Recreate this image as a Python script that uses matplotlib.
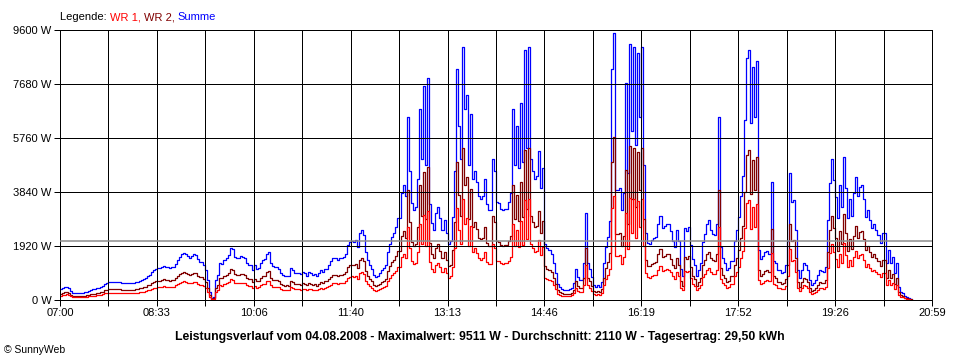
import numpy as np
import matplotlib
matplotlib.use("Agg")
import matplotlib.pyplot as plt

plt.rcParams['font.family'] = ['Liberation Sans', 'DejaVu Sans']

# Leistung in W, ein Wert je ~1,94 min ab 07:00 (eine Zeile je Gitterfeld)
wr1 = [
    160, 180, 190, 200, 180, 130, 110, 100, 100, 100, 100, 100, 110, 120, 140, 150, 160, 160, 170, 180, 190, 200, 240, 260,
    260, 260, 260, 260, 260, 260, 250, 240, 240, 240, 240, 240, 240, 250, 260, 280, 290, 300, 320, 340, 360, 390, 420, 440,
    450, 450, 470, 490, 480, 460, 460, 460, 480, 520, 570, 620, 650, 660, 650, 620, 600, 620, 650, 640, 580, 540, 540, 500,
    420, 280, 110, 30, 40, 280, 360, 520, 510, 570, 590, 640, 740, 720, 620, 590, 590, 620, 610, 600, 530, 500, 500, 430,
    500, 440, 460, 520, 570, 580, 660, 690, 520, 480, 480, 470, 450, 380, 350, 340, 340, 340, 460, 420, 380, 390, 380, 370,
    400, 380, 350, 400, 380, 350, 370, 340, 380, 420, 400, 440, 450, 500, 550, 590, 590, 580, 590, 590, 620, 660, 780, 820,
    840, 820, 850, 760, 950, 990, 920, 680, 570, 500, 440, 350, 330, 350, 380, 420, 460, 500, 680, 800, 900, 950, 1040, 1160,
    1160, 1520, 1640, 1480, 2600, 1840, 1380, 1280, 1320, 1720, 2720, 2000, 3040, 1920, 3160, 1360, 1100, 1000, 1240, 1320, 1160, 1000, 1140, 960,
    800, 840, 1180, 1840, 3280, 2480, 2000, 3600, 2720, 2920, 1920, 2640, 1720, 1840, 1680, 1480, 1440, 1480, 1720, 1360, 1280, 1280, 2000, 1840,
    1400, 1380, 1300, 1280, 1300, 1300, 1400, 1520, 2720, 1920, 2480, 1880, 2800, 1960, 3560, 2160, 3600, 2000, 1840, 1720, 1760, 2120, 1600, 1880,
    800, 740, 710, 660, 520, 380, 220, 180, 160, 140, 140, 140, 150, 170, 240, 440, 330, 290, 280, 520, 1240, 520, 440, 330,
    220, 190, 210, 190, 260, 520, 760, 900, 1120, 3280, 3700, 1560, 1560, 1600, 1280, 1520, 3080, 1800, 3640, 2400, 3600, 2200, 3520, 2600,
    3600, 1920, 960, 810, 800, 850, 880, 900, 1080, 1200, 1020, 1050, 1090, 1080, 980, 840, 760, 1000, 840, 440, 340, 1020, 980, 1040,
    780, 580, 500, 340, 420, 520, 820, 940, 1080, 1140, 1000, 940, 920, 1080, 2600, 760, 600, 520, 420, 460, 560, 560, 840, 1000,
    1180, 1480, 1760, 2560, 3440, 3560, 2520, 3320, 2600, 3400, 710, 580, 620, 680, 700, 660, 1680, 560, 520, 430, 430, 380, 400, 500,
    840, 1800, 1400, 1420, 1000, 430, 310, 430, 520, 500, 430, 280, 210, 240, 280, 360, 430, 420, 400, 480, 1140, 1660, 2000, 1710,
    1470, 1160, 1640, 1320, 2040, 1600, 1160, 1440, 1200, 1520, 1750, 1480, 1610, 1640, 1440, 1180, 1280, 1140, 1020, 1080, 1000, 920, 810, 960,
    950, 520, 710, 520, 620, 380, 520, 190, 120, 100, 60, 50, 30, 10, 0,
]
wr2 = [
    220, 240, 270, 270, 240, 190, 150, 140, 140, 140, 140, 150, 160, 180, 190, 200, 220, 230, 240, 250, 270, 290, 340, 360,
    380, 390, 390, 390, 390, 380, 370, 360, 360, 350, 350, 360, 370, 380, 390, 410, 430, 460, 480, 520, 540, 590, 640, 670,
    680, 680, 710, 730, 710, 700, 690, 700, 710, 770, 850, 920, 970, 1000, 970, 940, 900, 940, 970, 960, 870, 820, 810, 750,
    630, 420, 170, 50, 70, 420, 540, 780, 770, 850, 890, 960, 1110, 1080, 920, 890, 890, 940, 910, 900, 800, 750, 760, 640,
    740, 660, 690, 780, 850, 870, 990, 1030, 780, 720, 710, 710, 670, 570, 530, 510, 520, 510, 690, 630, 580, 580, 570, 550,
    600, 570, 520, 600, 570, 530, 560, 510, 580, 630, 600, 660, 670, 750, 820, 890, 890, 860, 890, 890, 920, 980, 1170, 1240,
    1250, 1230, 1280, 1140, 1420, 1490, 1380, 1020, 850, 750, 660, 530, 490, 520, 570, 630, 690, 750, 1020, 1200, 1350, 1430, 1560, 1740,
    1740, 2280, 2460, 2220, 3900, 2760, 2070, 1920, 1980, 2580, 4080, 3000, 4560, 2880, 4740, 2040, 1650, 1500, 1860, 1980, 1740, 1500, 1710, 1440,
    1200, 1260, 1770, 2760, 4920, 3720, 3000, 5400, 4080, 4380, 2880, 3960, 2580, 2760, 2520, 2220, 2160, 2220, 2580, 2040, 1920, 1920, 3000, 2760,
    2100, 2070, 1950, 1920, 1950, 1950, 2100, 2280, 4080, 2880, 3720, 2820, 4200, 2940, 5340, 3240, 5400, 3000, 2760, 2580, 2640, 3180, 2400, 2820,
    1200, 1110, 1070, 990, 780, 570, 340, 270, 240, 220, 210, 210, 230, 250, 360, 660, 490, 430, 420, 780, 1860, 780, 660, 490,
    330, 290, 320, 290, 390, 780, 1140, 1350, 1680, 4920, 5800, 2340, 2340, 2400, 1920, 2280, 4620, 2700, 5460, 3600, 5400, 3300, 5280, 3900,
    5400, 2880, 1440, 1220, 1200, 1270, 1310, 1350, 1620, 1800, 1530, 1570, 1630, 1620, 1470, 1260, 1140, 1500, 1260, 660, 510, 1530, 1470, 1560,
    1170, 870, 750, 510, 630, 780, 1230, 1410, 1620, 1710, 1500, 1410, 1380, 1620, 3900, 1140, 900, 780, 630, 690, 840, 840, 1260, 1500,
    1770, 2220, 2640, 3840, 5160, 5340, 3780, 4980, 3900, 5100, 1070, 870, 930, 1020, 1050, 990, 2520, 840, 780, 640, 640, 570, 600, 750,
    1260, 2700, 2100, 2130, 1490, 640, 460, 640, 780, 750, 640, 430, 320, 350, 430, 530, 640, 620, 600, 710, 1700, 2490, 3000, 2560,
    2200, 1740, 2450, 1980, 3060, 2400, 1740, 2160, 1800, 2280, 2630, 2220, 2420, 2460, 2160, 1780, 1920, 1700, 1530, 1620, 1490, 1380, 1210, 1440,
    1420, 780, 1070, 780, 920, 570, 780, 280, 180, 140, 80, 70, 50, 20, 0,
]
durchschnitt = 2110

x_labels = ["07:00", "08:33", "10:06", "11:40", "13:13", "14:46", "16:19", "17:52", "19:26", "20:59"]
y_values = [0, 1920, 3840, 5760, 7680, 9600]

n = min(len(wr1), len(wr2))
wr1 = np.array(wr1[:n])
wr2 = np.array(wr2[:n])
summe = wr1 + wr2
t = np.arange(n) * (839 / 432)

fig = plt.figure(figsize=(9.6, 3.6), dpi=100)
ax = fig.add_axes([60 / 960, 60 / 360, 872 / 960, 270 / 360])

ax.plot(t, summe, color='#0000ff', lw=0.9, drawstyle='steps-post')
ax.plot(t, wr2, color='#800000', lw=0.9, drawstyle='steps-post')
ax.plot(t, wr1, color='#ff0000', lw=0.9, drawstyle='steps-post')
ax.axhline(durchschnitt, color='#8c8c8c', lw=1.1, zorder=3)

ax.set_xlim(0, 839)
ax.set_ylim(0, 9600)
xt = np.linspace(0, 839, 19)
ax.set_xticks(xt)
ax.set_xticklabels([x_labels[i // 2] if i % 2 == 0 else "" for i in range(19)])
ax.set_yticks(y_values)
ax.set_yticklabels([f"{v} W" for v in y_values])
ax.grid(True, color='black', lw=0.72)
ax.set_axisbelow(False)
ax.tick_params(length=4, width=0.72, labelsize=8, color='black', pad=2)
for s in ax.spines.values():
    s.set_linewidth(0.72)
    s.set_color('black')

# Legende oben links, mehrfarbig
leg = fig.text(60 / 960, 1 - 17 / 360, "Legende: ", fontsize=8, va='center', color='black')
prev = leg
for txt, col in [("WR 1, ", '#ff0000'), ("WR 2, ", '#800000'), ("Summe", '#0000ff')]:
    prev = ax.annotate(txt, xy=(1, 0), xycoords=prev, va='bottom', ha='left',
                       fontsize=8, color=col, annotation_clip=False)

fig.text(0.5, 1 - 337 / 360,
         "Leistungsverlauf vom 04.08.2008 - Maximalwert: 9511 W - Durchschnitt: 2110 W - Tagesertrag: 29,50 kWh",
         fontsize=8.8, fontweight='bold', ha='center', va='center')
fig.text(4 / 960, 1 - 350 / 360, "© SunnyWeb", fontsize=7.5, ha='left', va='center')

fig.savefig("out.png", dpi=100, facecolor='white')
